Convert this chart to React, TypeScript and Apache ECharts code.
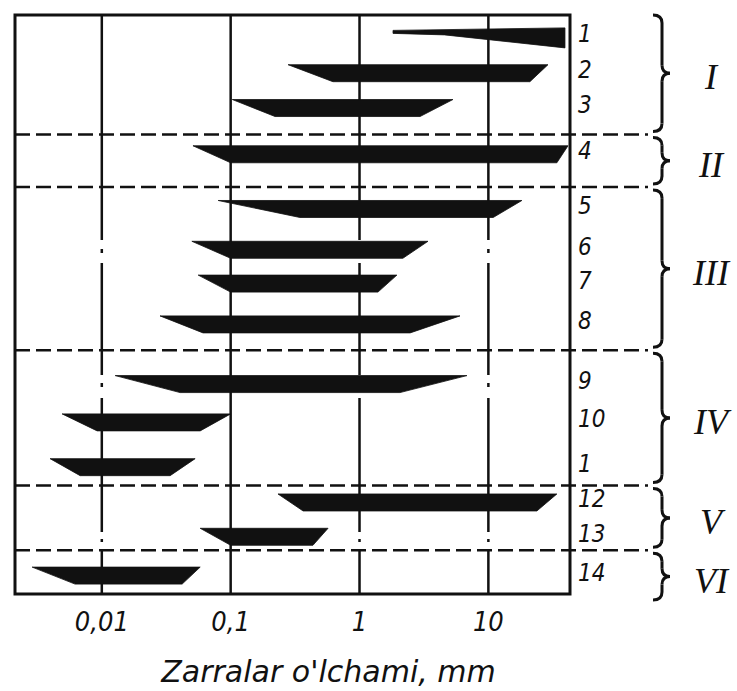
import React, { useEffect, useRef } from "react";
import * as echarts from "echarts";

// ---- data ----
const tickValues = [0.01, 0.1, 1, 10];
const tickLabels = ["0,01", "0,1", "1", "10"];
const axisTitle = "Zarralar o'lchami, mm";

const rowLabels = ["1", "2", "3", "4", "5", "6", "7", "8", "9", "10", "1", "12", "13", "14"];
// vertical position of each row (axis units, top = 0)
const rowPos = [22.5, 58.5, 93.5, 140, 195, 236, 270, 311, 371, 409.5, 454.5, 490, 524.5, 563.5];
// particle size ranges, mm (top edge is the full range, bottom edge the main range)
const topLeft = [1.82, 0.279, 0.103, 0.051, 0.08, 0.05, 0.056, 0.0283, 0.0127, 0.00492, 0.00397, 0.233, 0.058, 0.00288];
const bottomLeft = [1.82, 0.622, 0.221, 0.1, 0.345, 0.1, 0.1, 0.061, 0.0405, 0.0092, 0.00679, 0.365, 0.1, 0.0062];
const bottomRight = [39.3, 21.0, 2.95, 34.0, 10.9, 2.17, 1.39, 2.47, 2.06, 0.058, 0.0339, 23.8, 0.435, 0.042];
const topRight = [39.3, 29.0, 5.31, 41.5, 18.2, 3.4, 1.95, 6.02, 6.82, 0.1, 0.053, 34.0, 0.57, 0.058];
const barKind = ["wedge", "trap", "trap", "trap", "trap", "trap", "trap", "trap", "trap", "trap", "trap", "trap", "trap", "trap"];

// group boundaries (axis units) and group names
const separators = [120, 173, 337, 473, 538];
const groupNames = ["I", "II", "III", "IV", "V", "VI"];

const gridLineValues = [0.01, 0.1, 1, 10];
const gridLineDashDot = [true, false, true, true];

const X_MIN = 0.00212;
const X_MAX = 43;
const Y_MAX = 582;

const INK = "#111";
const DASH_DOT = [225, 9, 4, 10, 112, 8, 4, 11, 134, 7, 3, 7, 200];

export default function App() {
  const ref = useRef<HTMLDivElement>(null);

  useEffect(() => {
    if (!ref.current) return;
    const chart = echarts.init(ref.current, null, { renderer: "svg" });

    const barData = rowPos.map((y, i) => [topLeft[i], y, topRight[i], bottomRight[i], bottomLeft[i], barKind[i] === "wedge" ? 1 : 0]);
    const gridData = gridLineValues.map((v, i) => [v, 0, gridLineDashDot[i] ? 1 : 0]);

    const option: any = {
      animation: false,
      backgroundColor: "#fff",
      grid: {
        left: 15,
        top: 15,
        width: 555,
        height: 582,
        show: true,
        borderColor: INK,
        borderWidth: 3,
        backgroundColor: "transparent",
      },
      xAxis: {
        type: "log",
        logBase: 10,
        min: X_MIN,
        max: X_MAX,
        axisLine: { show: false },
        axisTick: { show: false },
        splitLine: { show: false },
        axisLabel: {
          margin: 14,
          fontFamily: "'DejaVu Sans Condensed', 'DejaVu Sans', sans-serif",
          fontStyle: "italic",
          fontSize: 27,
          color: INK,
          showMinLabel: false,
          showMaxLabel: false,
          formatter: (v: number) => {
            for (let i = 0; i < tickValues.length; i++) {
              if (Math.abs(Math.log10(v) - Math.log10(tickValues[i])) < 1e-6) return tickLabels[i];
            }
            return "";
          },
        },
        name: axisTitle,
        nameLocation: "middle",
        nameGap: 62,
        nameTextStyle: {
          fontFamily: "'DejaVu Sans', sans-serif",
          fontStyle: "italic",
          fontSize: 30,
          color: INK,
          padding: [0, 0, 0, 72],
        },
      },
      yAxis: {
        type: "value",
        min: 0,
        max: Y_MAX,
        inverse: true,
        show: false,
      },
      series: [
        {
          type: "custom",
          data: gridData,
          encode: { x: 0, y: 1 },
          silent: true,
          renderItem: (params: any, api: any) => {
            const cs = params.coordSys;
            const x = api.coord([api.value(0), 0])[0];
            const dashed = api.value(2) === 1;
            return {
              type: "line",
              shape: { x1: x, y1: cs.y, x2: x, y2: cs.y + cs.height },
              style: { stroke: INK, lineWidth: 2.5, lineDash: dashed ? DASH_DOT : null },
            };
          },
        },
        {
          type: "custom",
          data: barData,
          encode: { x: [0, 2, 3, 4], y: 1 },
          renderItem: (params: any, api: any) => {
            const yc = api.coord([1, api.value(1)])[1];
            const xtl = api.coord([api.value(0), 0])[0];
            const xtr = api.coord([api.value(2), 0])[0];
            const xbr = api.coord([api.value(3), 0])[0];
            const xbl = api.coord([api.value(4), 0])[0];
            const h = 17;
            const top = yc - h / 2;
            const bot = yc + h / 2;
            let pts;
            if (api.value(5) === 1) {
              pts = [
                [xtl, top + 1.5],
                [xtr, top - 1],
                [xbr, bot + 2],
                [xtl + (xtr - xtl) * 0.3, top + 6],
                [xbl, top + 4.5],
              ];
            } else {
              pts = [
                [xtl, top],
                [xtr, top],
                [xbr, bot],
                [xbl, bot],
              ];
            }
            return {
              type: "polygon",
              shape: { points: pts },
              style: { fill: INK, stroke: INK, lineWidth: 0.8 },
            };
          },
        },
      ],
    };
    chart.setOption(option);

    // side decorations positioned through the axes
    const py = (v: number) => chart.convertToPixel({ yAxisIndex: 0 }, v) as number;
    const pxMin = chart.convertToPixel({ xAxisIndex: 0 }, X_MIN) as number;
    const graphics: any[] = [];

    separators.forEach((s) => {
      const y = py(s);
      graphics.push({
        type: "line",
        z: 10,
        silent: true,
        shape: { x1: pxMin, y1: y, x2: 648, y2: y },
        style: { stroke: INK, lineWidth: 2.5, lineDash: [15, 6] },
      });
    });

    rowLabels.forEach((t, i) => {
      graphics.push({
        type: "text",
        z: 10,
        x: 578,
        y: py(rowPos[i]) - 3,
        style: {
          text: t,
          fill: INK,
          fontFamily: "'DejaVu Sans Condensed', 'DejaVu Sans', sans-serif",
          fontStyle: "italic",
          fontSize: 24,
          align: "left",
          verticalAlign: "middle",
        },
      });
    });

    const bounds = [0, ...separators, Y_MAX];
    const braceStyle = { stroke: INK, lineWidth: 3, fill: "none" };
    for (let g = 0; g < groupNames.length; g++) {
      const yT = py(bounds[g]) + (g === 0 ? 0 : 3);
      const yB = py(bounds[g + 1]) + (g === groupNames.length - 1 ? 6 : -3);
      const ym = (yT + yB) / 2;
      const x0 = 653;
      const xm = 662;
      const xt = 670;
      const r = 8;
      const children = [
        { type: "bezierCurve", shape: { x1: x0, y1: yT, x2: xm, y2: yT + r, cpx1: xm, cpy1: yT }, style: braceStyle },
        { type: "line", shape: { x1: xm, y1: yT + r, x2: xm, y2: ym - r }, style: braceStyle },
        { type: "bezierCurve", shape: { x1: xm, y1: ym - r, x2: xt, y2: ym, cpx1: xm, cpy1: ym }, style: braceStyle },
        { type: "bezierCurve", shape: { x1: xt, y1: ym, x2: xm, y2: ym + r, cpx1: xm, cpy1: ym }, style: braceStyle },
        { type: "line", shape: { x1: xm, y1: ym + r, x2: xm, y2: yB - r }, style: braceStyle },
        { type: "bezierCurve", shape: { x1: xm, y1: yB - r, x2: x0, y2: yB, cpx1: xm, cpy1: yB }, style: braceStyle },
      ];
      graphics.push({ type: "group", z: 10, silent: true, children });
      graphics.push({
        type: "text",
        z: 10,
        x: 711,
        y: ym + 4,
        style: {
          text: groupNames[g],
          fill: INK,
          fontFamily: "'Liberation Serif', 'DejaVu Serif', serif",
          fontStyle: "italic",
          fontSize: 36,
          align: "center",
          verticalAlign: "middle",
        },
      });
    }

    chart.setOption({ graphic: graphics });

    return () => chart.dispose();
  }, []);

  return (
    <div
      ref={ref}
      style={{ position: "absolute", left: 0, top: 0, width: 737, height: 691, background: "#fff" }}
    />
  );
}
